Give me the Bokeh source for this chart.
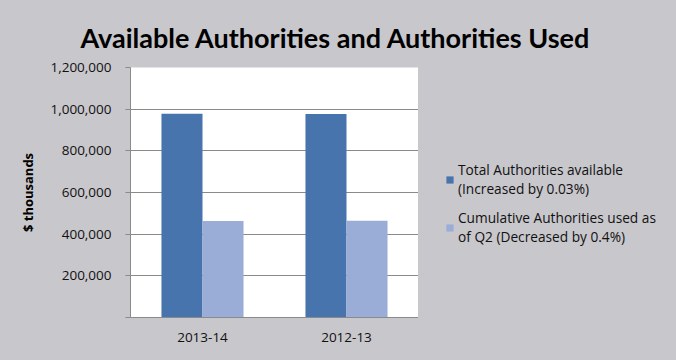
from bokeh.plotting import figure
from bokeh.layouts import column, row
from bokeh.models import (Range1d, FixedTicker, NumeralTickFormatter, Legend, LegendItem, Title,
                          ColumnDataSource)
from bokeh.transform import dodge
from bokeh.embed import file_html
from bokeh.resources import INLINE

categories = ["2013-14", "2012-13"]
total_available = [977500, 977200]
cumulative_used = [463000, 464900]
y_ticks = [0, 200000, 400000, 600000, 800000, 1000000, 1200000]
legend_labels = ["Total Authorities available\n(Increased by 0.03%)",
                 "Cumulative Authorities used as\nof Q2 (Decreased by 0.4%)"]
title_text = "Available Authorities and Authorities Used"
y_label = "$ thousands"

BG = "#c8c7cb"
DARK = "#4874ad"
LIGHT = "#9aadd6"
GRID = "#8a8a8a"
FONT = "Open Sans"


def blank(width, height, **kw):
    f = figure(width=width, height=height, x_range=Range1d(0, 1), y_range=Range1d(0, 1),
               output_backend="svg", toolbar_location=None, x_axis_location=None,
               y_axis_location=None, min_border=0, frame_align=False, title=None, **kw)
    f.grid.visible = False
    f.background_fill_color = BG
    f.border_fill_color = BG
    f.outline_line_color = None
    return f


# ---- title strip ----
p_top = blank(660, 57, min_border_top=56)
p_top.add_layout(Title(text=title_text, align="left", offset=80, standoff=6, text_font="Lato",
                       text_font_style="bold", text_font_size="27px", text_color="black"),
                 "above")

# ---- main chart ----
source = ColumnDataSource(dict(cat=categories, total=total_available, used=cumulative_used))

p = figure(x_range=categories, y_range=Range1d(0, 1200000), width=418, height=287,
           output_backend="svg", toolbar_location=None, frame_align=False, title=None,
           min_border_left=130, min_border_right=0, min_border_top=10, min_border_bottom=26)
p.background_fill_color = "white"
p.border_fill_color = BG
p.outline_line_color = None

bw = 0.285
p.vbar(x=dodge("cat", -bw / 2, range=p.x_range), top="total", width=bw, source=source,
       fill_color=DARK, line_color=None)
p.vbar(x=dodge("cat", bw / 2, range=p.x_range), top="used", width=bw, source=source,
       fill_color=LIGHT, line_color=None)

p.x_range.range_padding = 0
p.yaxis.ticker = FixedTicker(ticks=y_ticks)
p.yaxis.formatter = NumeralTickFormatter(format="0,0")
p.yaxis.major_label_overrides = {0: ""}
p.yaxis.minor_tick_line_color = None
p.yaxis.major_tick_in = 0
p.yaxis.major_tick_out = 5
p.yaxis.major_tick_line_color = GRID
p.yaxis.axis_line_color = GRID
p.yaxis.major_label_standoff = 14
p.yaxis.major_label_text_font = FONT
p.yaxis.major_label_text_font_size = "13.5px"
p.yaxis.major_label_text_color = "#111111"
p.yaxis.axis_label = y_label
p.yaxis.axis_label_text_font = FONT
p.yaxis.axis_label_text_font_style = "bold"
p.yaxis.axis_label_text_font_size = "13px"
p.yaxis.axis_label_standoff = 10
p.yaxis.axis_label_text_color = "black"

p.xaxis.axis_line_color = GRID
p.xaxis.major_tick_line_color = None
p.xaxis.minor_tick_line_color = None
p.xaxis.major_label_standoff = 9
p.xaxis.major_label_text_font = FONT
p.xaxis.major_label_text_font_size = "13.5px"
p.xaxis.major_label_text_color = "#111111"

p.xgrid.grid_line_color = None
p.ygrid.grid_line_color = GRID
p.ygrid.ticker = FixedTicker(ticks=y_ticks)

# ---- legend strip (proxy renderers sit outside the visible range) ----
p_leg = blank(242, 287)
g1 = p_leg.vbar(x=[-5], top=[-5], width=0.1, fill_color=DARK, line_color=None)
g2 = p_leg.vbar(x=[-5], top=[-5], width=0.1, fill_color=LIGHT, line_color=None)
legend = Legend(items=[LegendItem(label=legend_labels[0], renderers=[g1]),
                       LegendItem(label=legend_labels[1], renderers=[g2])],
                location=(27, 98), background_fill_alpha=0, border_line_color=None,
                glyph_width=9, glyph_height=9, label_height=19,
                label_text_font=FONT, label_text_font_size="13.7px",
                label_text_line_height=1.38,
                label_text_color="#111111", spacing=10, padding=0, margin=0,
                label_standoff=4)
p_leg.add_layout(legend)

layout = column(p_top, row(p, p_leg, spacing=0), spacing=0)
html = file_html(layout, INLINE)
html = html.replace("<head>", "<head><style>html, body { background: %s; }</style>" % BG, 1)
open("out.html", "w").write(html)
